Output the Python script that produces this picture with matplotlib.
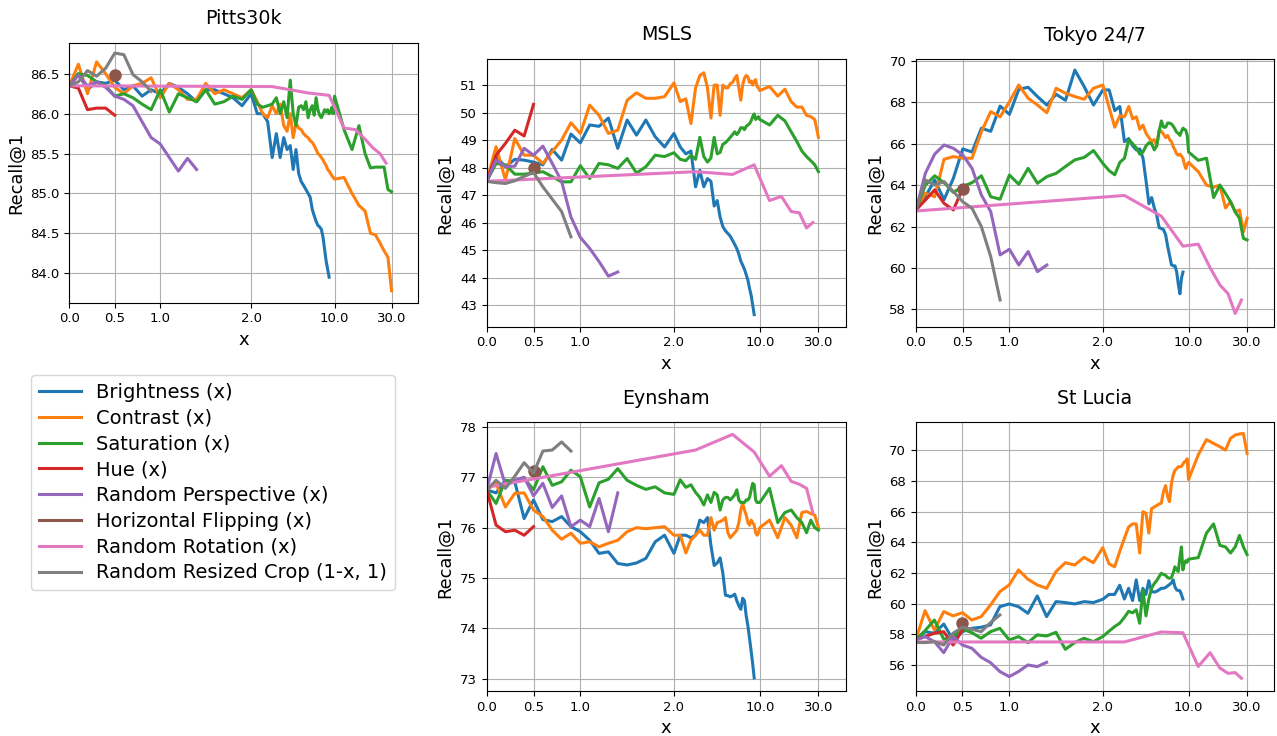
import numpy as np
import matplotlib
matplotlib.use('Agg')
import matplotlib.pyplot as plt
from matplotlib.lines import Line2D

# sample positions of the augmentation strength
X_LIN = [0.0, 0.1, 0.2, 0.3, 0.4, 0.5, 0.6, 0.7, 0.8, 0.9, 1.0,
         1.1, 1.2, 1.3, 1.4, 1.5, 1.6, 1.7, 1.8, 1.9, 2.0]
X_LOG_B = [2.25, 2.5, 2.75, 3.0, 3.25, 3.5, 3.75, 4.0, 4.25, 4.5, 4.75, 5.0, 5.25, 5.5,
           5.75, 6.0, 6.25, 6.5, 6.75, 7.0, 7.25, 7.5, 7.75, 8.0, 8.25, 8.5, 8.75, 9.0]
X_LOG_C = X_LOG_B + [9.25, 9.5, 9.75, 10.0, 12, 14, 16, 18, 20, 22, 24, 26, 28, 30]
X_HUE = [0.0, 0.1, 0.2, 0.3, 0.4, 0.5]
X_PERSP = X_LIN[:15]
X_CROP = X_LIN[:10]
X_ROT = [0, 3, 6, 9, 12, 15, 18, 21, 24, 27]
X_FLIP = [0.5]

X_BRIGHT = X_LIN + X_LOG_B
X_CS = X_LIN + X_LOG_C

LABELS = ['Brightness (x)', 'Contrast (x)', 'Saturation (x)', 'Hue (x)',
          'Random Perspective (x)', 'Horizontal Flipping (x)',
          'Random Rotation (x)', 'Random Resized Crop (1-x, 1)']
XTICKS = [0.0, 0.5, 1.0, 2.0, 10.0, 30.0]
XTICKLABELS = ['0.0', '0.5', '1.0', '2.0', '10.0', '30.0']

# ---- Pitts30k
PITTS_BRIGHT = [86.35, 86.5, 86.3, 86.4, 86.38, 86.42, 86.3, 86.35, 86.22, 86.3, 86.25, 86.38, 86.33, 86.25, 86.15, 86.3, 86.3, 86.25, 86.2, 86.1, 86.25,
                86.0, 86.0, 85.9, 85.45, 85.75, 85.45, 85.7, 85.55, 85.6, 85.3, 85.55, 85.25, 85.15, 85.1, 85.05, 85.0, 84.95, 84.8, 84.72, 84.65, 84.6, 84.58, 84.55, 84.45, 84.3, 84.15, 84.05, 83.95]
PITTS_CONTRAST = [86.35, 86.62, 86.25, 86.65, 86.5, 86.33, 86.25, 86.35, 86.38, 86.45, 86.2, 86.38, 86.3, 86.18, 86.18, 86.38, 86.25, 86.3, 86.25, 86.2, 86.3,
                  86.15, 86.0, 85.95, 86.1, 86.0, 86.12, 85.85, 85.78, 86.0, 85.7, 85.88, 85.82, 85.8, 85.75, 85.72, 85.7, 85.66, 85.64, 85.6, 85.55, 85.5, 85.48, 85.45, 85.42, 85.38, 85.35, 85.3, 85.28, 85.25, 85.22, 85.2, 85.18,
                  85.2, 85.0, 84.85, 84.78, 84.5, 84.48, 84.38, 84.28, 84.2, 83.78]
PITTS_SAT = [86.35, 86.5, 86.48, 86.4, 86.35, 86.22, 86.25, 86.2, 86.12, 86.05, 86.3, 86.02, 86.25, 86.2, 86.15, 86.3, 86.12, 86.15, 86.22, 86.18, 86.3,
             86.12, 86.08, 86.1, 86.12, 86.2, 86.0, 86.15, 85.95, 86.42, 86.0, 85.85, 86.08, 86.1, 86.05, 86.15, 85.95, 86.05, 86.1, 85.98, 86.2, 86.05, 85.98, 85.95, 86.0, 86.05, 86.02, 86.05, 86.0, 86.02, 86.08, 86.0, 86.22,
             85.8, 85.55, 85.85, 85.5, 85.32, 85.33, 85.33, 85.33, 85.05, 85.02]
PITTS_HUE = [86.35, 86.32, 86.05, 86.07, 86.07, 85.98]
PITTS_PERSP = [86.35, 86.48, 86.35, 86.4, 86.33, 86.22, 86.18, 86.1, 85.9, 85.7, 85.62, 85.45, 85.28, 85.44, 85.3]
PITTS_FLIP = [86.48]
PITTS_ROT = [86.35, 86.34, 86.26, 86.23, 85.82, 85.8, 85.68, 85.57, 85.5, 85.38]
PITTS_CROP = [86.35, 86.4, 86.54, 86.47, 86.57, 86.76, 86.74, 86.49, 86.4, 86.28]

# ---- MSLS
MSLS_BRIGHT = [47.5, 48.4, 48.03, 48.3, 48.27, 48.2, 48.1, 48.66, 48.27, 49.22, 48.9, 49.55, 49.5, 49.8, 48.7, 49.73, 49.18, 49.73, 49.12, 48.75, 49.24,
               48.75, 48.5, 48.6, 47.3, 47.9, 47.3, 47.6, 47.5, 46.6, 46.8, 46.2, 45.85, 45.7, 45.6, 45.5, 45.35, 45.2, 45.05, 44.85, 44.6, 44.45, 44.3, 44.1, 43.9, 43.6, 43.35, 43.0, 42.65]
MSLS_CONTRAST = [47.5, 48.76, 47.55, 49.06, 48.45, 48.45, 48.15, 48.58, 49.0, 49.63, 49.24, 50.27, 49.9, 49.24, 49.36, 50.45, 50.72, 50.52, 50.52, 50.58, 51.08,
                 50.4, 50.5, 49.6, 50.9, 51.35, 51.45, 50.9, 49.8, 51.0, 51.0, 49.9, 51.0, 50.9, 50.9, 51.05, 51.1, 51.25, 51.35, 50.9, 50.45, 51.0, 51.25, 51.35, 51.3, 51.1, 51.15, 51.0, 51.15, 51.2, 50.95, 50.9, 50.8,
                 50.95, 50.6, 50.85, 50.4, 50.2, 50.2, 49.9, 49.85, 49.75, 49.1]
MSLS_SAT = [47.5, 48.15, 48.1, 47.76, 47.76, 47.8, 47.85, 47.67, 47.48, 47.48, 48.07, 47.6, 48.15, 48.1, 47.97, 48.33, 47.8, 48.03, 48.45, 48.4, 48.54,
            48.3, 48.25, 48.45, 48.3, 49.1, 48.4, 48.2, 48.35, 49.1, 48.5, 48.55, 48.85, 48.9, 49.0, 49.1, 49.2, 49.3, 49.2, 49.3, 49.45, 49.45, 49.38, 49.5, 49.55, 49.6, 49.7, 49.85, 49.95, 49.75, 49.8, 49.85, 49.75,
            49.55, 49.9, 49.7, 49.3, 48.95, 48.6, 48.4, 48.25, 48.1, 47.85]
MSLS_HUE = [47.5, 48.45, 48.88, 49.36, 49.15, 50.3]
MSLS_PERSP = [47.5, 48.27, 48.03, 48.05, 48.7, 48.45, 48.78, 48.15, 47.5, 46.2, 45.46, 45.06, 44.58, 44.05, 44.2]
MSLS_FLIP = [47.98]
MSLS_ROT = [47.5, 47.85, 47.75, 48.1, 46.8, 46.95, 46.4, 46.35, 45.8, 46.0]
MSLS_CROP = [47.5, 47.45, 47.42, 47.52, 47.68, 47.82, 47.3, 46.85, 46.4, 45.48]

# ---- Tokyo 24/7
TOKYO_BRIGHT = [62.8, 63.44, 64.25, 63.3, 64.33, 65.75, 65.6, 66.75, 66.6, 67.82, 67.42, 68.63, 68.73, 68.28, 67.87, 68.39, 68.1, 69.56, 68.76, 67.87, 68.6,
                68.6, 67.6, 67.8, 66.1, 66.25, 65.9, 65.7, 65.75, 65.3, 64.2, 63.1, 63.4, 62.9, 62.55, 61.95, 61.9, 61.85, 61.6, 61.05, 60.6, 60.15, 60.1, 60.1, 59.8, 59.2, 58.75, 59.5, 59.8]
TOKYO_CONTRAST = [62.8, 63.6, 63.44, 65.25, 65.38, 65.3, 65.3, 66.58, 67.55, 67.3, 68.03, 68.84, 68.2, 67.87, 67.5, 68.68, 68.44, 68.28, 68.15, 68.68, 68.84,
                  67.75, 66.8, 67.35, 67.3, 67.8, 67.2, 67.3, 66.7, 66.9, 66.5, 66.3, 66.1, 66.2, 65.9, 66.65, 66.6, 66.45, 66.3, 66.4, 66.2, 66.1, 65.85, 65.7, 65.5, 65.45, 65.5, 65.4, 65.3, 65.0, 64.8, 65.0, 65.1,
                  64.65, 64.0, 63.9, 64.0, 62.9, 63.2, 62.72, 62.8, 61.75, 62.4]
TOKYO_SAT = [62.8, 64.0, 64.45, 64.12, 63.65, 63.93, 64.12, 64.45, 63.44, 63.32, 64.49, 64.04, 64.81, 64.09, 64.41, 64.57, 64.9, 65.22, 65.34, 65.67, 65.05,
             64.7, 64.5, 65.1, 65.3, 66.2, 66.0, 65.8, 65.5, 65.6, 65.9, 66.05, 66.0, 65.7, 65.9, 66.6, 67.1, 66.8, 66.8, 67.0, 67.0, 66.95, 66.85, 66.7, 66.55, 66.5, 66.4, 66.6, 66.75, 66.7, 66.65, 66.4, 65.6,
             65.2, 65.3, 63.4, 64.0, 63.6, 63.2, 62.7, 62.4, 61.43, 61.35]
TOKYO_HUE = [62.8, 63.28, 63.77, 63.12, 62.8, 63.85]
TOKYO_PERSP = [62.8, 64.57, 65.5, 65.94, 65.78, 65.46, 64.81, 63.52, 62.72, 60.63, 60.9, 60.14, 60.79, 59.82, 60.14]
TOKYO_FLIP = [63.83]
TOKYO_ROT = [62.75, 63.5, 62.5, 61.05, 61.15, 60.0, 59.18, 58.75, 57.8, 58.45]
TOKYO_CROP = [62.8, 64.25, 64.0, 64.17, 63.69, 63.2, 62.88, 61.99, 60.54, 58.45]

# ---- Eynsham
EYN_BRIGHT = [76.75, 76.69, 76.94, 76.91, 76.18, 76.55, 76.16, 76.12, 76.22, 76.02, 75.92, 75.75, 75.49, 75.52, 75.29, 75.26, 75.3, 75.39, 75.72, 75.85, 75.49,
              75.85, 75.85, 75.8, 75.85, 76.15, 76.1, 76.2, 75.65, 75.25, 75.3, 75.4, 75.1, 74.66, 74.65, 74.63, 74.65, 74.68, 74.55, 74.45, 74.38, 74.6, 74.55, 74.25, 74.05, 73.8, 73.55, 73.3, 73.02]
EYN_CONTRAST = [76.75, 76.88, 76.41, 76.68, 76.69, 76.35, 76.22, 75.95, 75.77, 75.89, 75.69, 75.72, 75.62, 75.69, 75.75, 75.92, 76.0, 75.98, 76.0, 76.02, 75.85,
                75.85, 75.5, 75.75, 75.85, 75.95, 75.85, 75.85, 76.2, 75.95, 76.1, 76.12, 76.15, 76.2, 75.9, 75.8, 75.85, 75.9, 75.95, 76.1, 76.35, 76.48, 76.35, 76.25, 76.1, 76.05, 76.15, 76.1, 76.05, 75.9, 75.85, 75.9, 76.0,
                76.15, 75.8, 76.2, 76.05, 75.8, 76.3, 76.32, 76.28, 76.25, 76.0]
EYN_SAT = [76.75, 76.48, 76.94, 76.91, 76.98, 76.75, 77.21, 76.84, 76.91, 77.14, 77.01, 76.41, 76.89, 76.96, 77.17, 76.94, 76.84, 76.76, 76.81, 76.69, 76.66,
           76.95, 76.8, 76.85, 76.7, 76.6, 76.45, 76.65, 76.5, 76.7, 76.65, 76.35, 76.55, 76.6, 76.6, 76.55, 76.6, 76.65, 76.75, 76.55, 76.5, 76.5, 76.5, 76.55, 76.55, 76.6, 76.75, 76.88, 76.85, 76.55, 76.5, 76.5, 76.5,
           76.78, 76.1, 76.3, 76.35, 76.2, 76.1, 75.9, 76.15, 76.0, 75.95]
EYN_HUE = [76.75, 76.05, 75.92, 75.95, 75.85, 76.02]
EYN_PERSP = [76.75, 77.47, 76.84, 76.94, 77.0, 76.63, 76.88, 76.4, 76.63, 76.02, 76.15, 76.02, 76.58, 75.92, 76.69]
EYN_FLIP = [77.12]
EYN_ROT = [76.8, 77.54, 77.85, 77.5, 77.02, 77.23, 76.92, 76.86, 76.78, 76.3]
EYN_CROP = [76.75, 76.94, 76.78, 77.02, 77.29, 77.08, 77.52, 77.54, 77.7, 77.52]

# ---- St Lucia
STL_BRIGHT = [57.63, 58.17, 58.07, 58.67, 57.63, 58.17, 58.39, 58.46, 58.61, 59.8, 59.98, 59.8, 59.37, 60.5, 59.15, 60.13, 60.07, 59.98, 60.13, 60.07, 60.28,
              60.6, 60.6, 61.2, 60.3, 61.0, 60.2, 61.55, 60.2, 61.0, 60.6, 61.5, 60.8, 60.75, 60.8, 60.9, 61.0, 61.0, 61.05, 61.15, 61.25, 61.35, 61.55, 61.1, 60.9, 60.85, 60.85, 60.6, 60.3]
STL_CONTRAST = [57.63, 59.54, 58.28, 59.48, 59.2, 59.41, 58.93, 59.15, 59.91, 60.78, 61.22, 62.2, 61.59, 61.22, 61.0, 62.09, 62.67, 62.52, 63.02, 62.67, 63.65,
                62.6, 62.4, 63.4, 64.25, 65.0, 65.2, 65.2, 63.3, 66.0, 65.9, 64.6, 66.2, 66.3, 66.4, 66.5, 66.55, 67.3, 67.7, 67.0, 66.65, 67.8, 68.4, 68.7, 68.8, 68.93, 68.93, 68.95, 69.1, 69.25, 69.3, 69.45, 68.1,
                69.7, 70.7, 70.45, 70.24, 70.02, 70.78, 71.0, 71.07, 71.1, 69.8]
STL_SAT = [57.63, 58.24, 58.93, 57.67, 57.85, 58.33, 58.11, 57.74, 58.17, 58.39, 57.63, 57.85, 57.46, 57.96, 57.89, 58.13, 57.02, 57.46, 57.74, 57.52, 57.85,
           58.2, 58.5, 58.72, 59.1, 59.5, 59.4, 59.6, 58.72, 60.89, 59.2, 60.3, 61.0, 61.3, 61.5, 61.75, 61.98, 61.9, 61.85, 61.7, 61.65, 61.7, 62.0, 62.4, 62.2, 62.1, 63.0, 63.7, 62.2, 62.6, 62.8, 62.7, 62.9,
           63.0, 64.6, 65.2, 63.8, 63.7, 63.3, 63.7, 64.45, 63.7, 63.2]
STL_HUE = [57.63, 57.85, 58.07, 58.17, 57.3, 58.28]
STL_PERSP = [57.63, 57.85, 57.52, 56.8, 57.85, 57.3, 57.09, 56.5, 56.15, 55.57, 55.24, 55.57, 56.0, 55.89, 56.17]
STL_FLIP = [58.72]
STL_ROT = [57.5, 57.5, 58.15, 58.1, 55.9, 56.8, 55.8, 55.45, 55.5, 55.13]
STL_CROP = [57.46, 57.46, 57.52, 57.3, 58.07, 58.46, 58.33, 58.17, 58.76, 59.26]

# x axis: linear up to 2, logarithmic above
K = 0.57

def fwd(x):
    x = np.asarray(x, dtype=float)
    return np.where(x <= 2, x, 2 + K * np.log(np.maximum(x, 2) / 2))

def inv(y):
    y = np.asarray(y, dtype=float)
    return np.where(y <= 2, y, 2 * np.exp((np.clip(y, 2, 20) - 2) / K))


def PlotPanel(ax, title, bright, contrast, sat, hue, persp, flip, rot, crop, ylim, yticks):
    ax.set_xscale('function', functions=(fwd, inv))
    ax.plot(X_BRIGHT, bright, color='C0', lw=2.2)
    ax.plot(X_CS, contrast, color='C1', lw=2.2)
    ax.plot(X_CS, sat, color='C2', lw=2.2)
    ax.plot(X_HUE, hue, color='C3', lw=2.2)
    ax.plot(X_PERSP, persp, color='C4', lw=2.2)
    ax.plot(X_FLIP, flip, color='C5', lw=2.2, marker='o', ms=8)
    ax.plot(X_ROT, rot, color='C6', lw=2.2)
    ax.plot(X_CROP, crop, color='C7', lw=2.2)
    ax.set_xlim(0, 50)
    ax.set_xticks(XTICKS)
    ax.set_xticklabels(XTICKLABELS)
    ax.set_ylim(*ylim)
    ax.set_yticks(yticks)
    ax.grid(True)
    ax.tick_params(labelsize=9.5)
    ax.set_title(title, fontsize=13.7, pad=13.5)
    ax.set_xlabel('x', fontsize=13)
    ax.set_ylabel('Recall@1', fontsize=12.8)


W, H = 1277, 736
fig = plt.figure(figsize=(W / 100, H / 100), dpi=100)

def box(l, t, r, b):
    return [l / W, 1 - b / H, (r - l) / W, (b - t) / H]

ax1 = fig.add_axes(box(69.3, 42.7, 418, 302.7))
ax2 = fig.add_axes(box(486.7, 59, 845.7, 326.7))
ax3 = fig.add_axes(box(916, 59.3, 1274.3, 326.7))
ax4 = fig.add_axes(box(486.7, 422.3, 845.7, 691))
ax5 = fig.add_axes(box(915.7, 422.3, 1274.3, 691))

PlotPanel(ax1, 'Pitts30k', PITTS_BRIGHT, PITTS_CONTRAST, PITTS_SAT, PITTS_HUE, PITTS_PERSP,
          PITTS_FLIP, PITTS_ROT, PITTS_CROP, (83.63, 86.89), [84.0, 84.5, 85.0, 85.5, 86.0, 86.5])
PlotPanel(ax2, 'MSLS', MSLS_BRIGHT, MSLS_CONTRAST, MSLS_SAT, MSLS_HUE, MSLS_PERSP,
          MSLS_FLIP, MSLS_ROT, MSLS_CROP, (42.21, 51.95), [43, 44, 45, 46, 47, 48, 49, 50, 51])
PlotPanel(ax3, 'Tokyo 24/7', TOKYO_BRIGHT, TOKYO_CONTRAST, TOKYO_SAT, TOKYO_HUE, TOKYO_PERSP,
          TOKYO_FLIP, TOKYO_ROT, TOKYO_CROP, (57.16, 70.08), [58, 60, 62, 64, 66, 68, 70])
PlotPanel(ax4, 'Eynsham', EYN_BRIGHT, EYN_CONTRAST, EYN_SAT, EYN_HUE, EYN_PERSP,
          EYN_FLIP, EYN_ROT, EYN_CROP, (72.76, 78.09), [73, 74, 75, 76, 77, 78])
PlotPanel(ax5, 'St Lucia', STL_BRIGHT, STL_CONTRAST, STL_SAT, STL_HUE, STL_PERSP,
          STL_FLIP, STL_ROT, STL_CROP, (54.30, 71.83), [56, 58, 60, 62, 64, 66, 68, 70])

handles = [Line2D([], [], color='C%d' % i, lw=2.2) for i in range(8)]
fig.legend(handles, LABELS, loc='upper left', bbox_to_anchor=(31 / W, 1 - 375 / H),
           borderaxespad=0, fontsize=14, labelspacing=0.35, handlelength=2.15)

plt.savefig('out.png', dpi=100)
